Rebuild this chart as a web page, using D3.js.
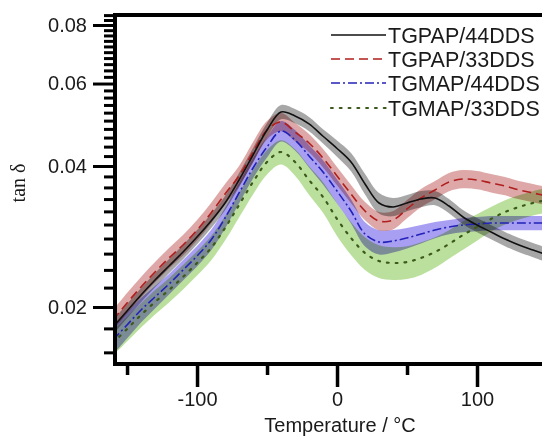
<!DOCTYPE html>
<html>
<head>
<meta charset="utf-8">
<script src="https://cdn.jsdelivr.net/npm/d3@7/dist/d3.min.js"></script>
<style>
  html, body { margin: 0; padding: 0; background: #fff; overflow: hidden; }
  svg { display: block; }
  text { font-family: "Liberation Sans", Arial, sans-serif; }
</style>
</head>
<body>
<svg id="chart" width="542" height="438"></svg>
<script>
// ---------- data ----------
const temps = [-160,-150,-140,-130,-120,-110,-100,-90,-80,-70,-60,-50,-40,-30,-20,-10,0,10,20,30,40,50,60,70,80,90,100,110,120,130,140,150];
const tgpap44 = [0.01813,0.01961,0.02122,0.02284,0.02447,0.02621,0.02821,0.03052,0.03335,0.03734,0.04222,0.04774,0.05216,0.05115,0.04920,0.04630,0.04360,0.04080,0.03661,0.03335,0.03270,0.03335,0.03401,0.03418,0.03286,0.03113,0.02993,0.02892,0.02794,0.02713,0.02647,0.02583];
const tgpap33 = [0.01876,0.02040,0.02207,0.02375,0.02545,0.02713,0.02920,0.03175,0.03486,0.03808,0.04285,0.04774,0.04966,0.04728,0.04479,0.04160,0.03808,0.03486,0.03206,0.03052,0.03067,0.03238,0.03418,0.03555,0.03698,0.03753,0.03734,0.03679,0.03626,0.03555,0.03503,0.03452];
const tgmap44 = [0.01701,0.01831,0.01971,0.02101,0.02239,0.02399,0.02570,0.02780,0.03098,0.03503,0.03961,0.04392,0.04751,0.04545,0.04202,0.03884,0.03537,0.03206,0.02863,0.02753,0.02767,0.02808,0.02863,0.02920,0.02964,0.02993,0.03008,0.03022,0.03022,0.03022,0.03022,0.03022];
const tgmap33 = [0.01676,0.01795,0.01923,0.02050,0.02174,0.02318,0.02483,0.02673,0.02949,0.03302,0.03698,0.04080,0.04285,0.04080,0.03734,0.03435,0.03083,0.02808,0.02608,0.02507,0.02483,0.02495,0.02545,0.02621,0.02726,0.02849,0.02964,0.03083,0.03190,0.03270,0.03335,0.03385];
// relative spread (band half-width) of each series
const tgpap44Spread = [0.035,0.035,0.035,0.035,0.035,0.035,0.035,0.035,0.035,0.035,0.035,0.035,0.035,0.035,0.035,0.035,0.04,0.045,0.05,0.05,0.045,0.04,0.04,0.035,0.035,0.035,0.035,0.035,0.035,0.035,0.035,0.035];
const tgpap33Spread = [0.05,0.05,0.05,0.05,0.05,0.05,0.05,0.05,0.05,0.05,0.05,0.045,0.045,0.045,0.045,0.045,0.045,0.045,0.045,0.045,0.045,0.045,0.045,0.045,0.045,0.045,0.045,0.045,0.045,0.045,0.045,0.045];
const tgmap44Spread = [0.07,0.065,0.06,0.055,0.05,0.05,0.05,0.05,0.05,0.05,0.05,0.05,0.05,0.05,0.055,0.06,0.06,0.06,0.06,0.06,0.055,0.05,0.045,0.04,0.035,0.035,0.035,0.035,0.035,0.035,0.035,0.035];
const tgmap33Spread = [0.06,0.06,0.06,0.06,0.06,0.06,0.06,0.06,0.06,0.06,0.06,0.06,0.06,0.065,0.07,0.075,0.08,0.08,0.08,0.08,0.08,0.08,0.08,0.075,0.07,0.07,0.065,0.06,0.06,0.06,0.06,0.06];
const seriesNames = ["TGPAP/44DDS","TGPAP/33DDS","TGMAP/44DDS","TGMAP/33DDS"];
const yMajorTicks = [0.02,0.04,0.06,0.08];
const yTickLabels = ["0.02","0.04","0.06","0.08"];
const xMajorTicks = [-100,0,100];
const xTickLabels = ["-100","0","100"];
const xMinorTicks = [-150,-50,50,150];

// ---------- layout ----------
const svg = d3.select("#chart");
const L = 115, T = 15, B = 364, R = 561;
const x = d3.scaleLinear().domain([-158.6, 160]).range([L, R]);
const y = d3.scaleLog().domain([0.01511, 0.08404]).range([B, T]);

const styles = [
  {line:"#111111", dash:null, band:"rgb(95,95,95)", bandOp:0.55, w:1.6},
  {line:"#b01e1e", dash:"9,5", band:"rgb(200,110,110)", bandOp:0.6, w:1.6},
  {line:"#2222b8", dash:"9,3,2,3", band:"rgb(110,95,235)", bandOp:0.6, w:1.6},
  {line:"#3d5a1c", dash:"1.8,7", band:"rgb(150,208,105)", bandOp:0.65, w:2.2}
];
const values = [tgpap44, tgpap33, tgmap44, tgmap33];
const spreads = [tgpap44Spread, tgpap33Spread, tgmap44Spread, tgmap33Spread];

svg.append("clipPath").attr("id","plotclip").append("rect")
  .attr("x", L).attr("y", T).attr("width", R - L).attr("height", B - T);
const plot = svg.append("g").attr("clip-path","url(#plotclip)");

const area = d3.area().curve(d3.curveCatmullRom.alpha(0.5))
  .x(d => x(d.t)).y0(d => y(d.v * (1 - d.s))).y1(d => y(d.v * (1 + d.s)));
const line = d3.line().curve(d3.curveCatmullRom.alpha(0.5))
  .x(d => x(d.t)).y(d => y(d.v));

const data = values.map((vals, i) => temps.map((t, j) => ({t, v: vals[j], s: spreads[i][j]})));

// bands (draw order: green, blue, red, black)
[3,2,1,0].forEach(i => {
  plot.append("path").datum(data[i]).attr("d", area)
    .attr("fill", styles[i].band).attr("fill-opacity", styles[i].bandOp)
    .style("mix-blend-mode","multiply");
});
[3,2,1,0].forEach(i => {
  plot.append("path").datum(data[i]).attr("d", line)
    .attr("fill","none").attr("stroke", styles[i].line)
    .attr("stroke-width", styles[i].w)
    .attr("stroke-dasharray", styles[i].dash)
    .attr("stroke-linecap", i === 3 ? "round" : "butt");
});

// ---------- axes ----------
const axisW = 3;
// frame
svg.append("line").attr("x1", L).attr("x2", L).attr("y1", T - 1.5).attr("y2", B + 1.5)
  .attr("stroke","#000").attr("stroke-width", axisW + 1);
svg.append("line").attr("x1", L - 2).attr("x2", 560).attr("y1", T).attr("y2", T)
  .attr("stroke","#000").attr("stroke-width", axisW + 1);
svg.append("line").attr("x1", L - 2).attr("x2", 560).attr("y1", B).attr("y2", B)
  .attr("stroke","#000").attr("stroke-width", axisW + 1);

// y axis ticks
const yMinor = d3.range(0.016, 0.0845, 0.002).filter(v => !yMajorTicks.some(m => Math.abs(m - v) < 1e-6));
const yAxisMinor = d3.axisLeft(y).tickValues(yMinor).tickSize(11).tickFormat("");
const yAxisMajor = d3.axisLeft(y).tickValues(yMajorTicks).tickSize(22)
  .tickFormat((d, i) => yTickLabels[i]).tickPadding(6);
const gyMinor = svg.append("g").attr("transform", `translate(${L},0)`).call(yAxisMinor);
const gyMajor = svg.append("g").attr("transform", `translate(${L},0)`).call(yAxisMajor);
[gyMinor, gyMajor].forEach(g => {
  g.select(".domain").remove();
  g.selectAll("line").attr("stroke","#000").attr("stroke-width", axisW);
});
gyMajor.selectAll("text").attr("font-size", 20).attr("fill","#1a1a1a")
  .style("font-family","'Liberation Sans', Arial, sans-serif");

// x axis ticks
const xAxisMinor = d3.axisBottom(x).tickValues(xMinorTicks).tickSize(11).tickFormat("");
const xAxisMajor = d3.axisBottom(x).tickValues(xMajorTicks).tickSize(23)
  .tickFormat((d, i) => xTickLabels[i]).tickPadding(5);
const gxMinor = svg.append("g").attr("transform", `translate(0,${B})`).call(xAxisMinor);
const gxMajor = svg.append("g").attr("transform", `translate(0,${B})`).call(xAxisMajor);
[gxMinor, gxMajor].forEach(g => {
  g.select(".domain").remove();
  g.selectAll("line").attr("stroke","#000").attr("stroke-width", axisW + 0.5);
});
gxMajor.selectAll("text").attr("font-size", 20).attr("fill","#1a1a1a")
  .style("font-family","'Liberation Sans', Arial, sans-serif");

// axis titles
svg.append("text").attr("x", 340).attr("y", 432).attr("text-anchor","middle")
  .attr("font-size", 20).attr("fill","#1a1a1a").text("Temperature / \u00B0C");
svg.append("text").attr("transform","translate(25,183) rotate(-90)")
  .attr("text-anchor","middle").attr("font-size", 20)
  .style("font-family","'Liberation Serif', 'Times New Roman', serif")
  .attr("fill","#1a1a1a").text("tan \u03B4");

// ---------- legend ----------
const legY = [35, 59, 83, 108];
const leg = svg.append("g");
seriesNames.forEach((name, i) => {
  leg.append("line").attr("x1", 331).attr("x2", 386).attr("y1", legY[i]).attr("y2", legY[i])
    .attr("stroke", styles[i].line).attr("stroke-width", i === 3 ? 2.2 : 1.6)
    .attr("stroke-dasharray", styles[i].dash)
    .attr("stroke-linecap", i === 3 ? "round" : "butt");
  leg.append("text").attr("x", 388).attr("y", legY[i]).attr("dy", "0.36em")
    .attr("font-size", 21.5).attr("fill","#1a1a1a").text(name);
});
</script>
</body>
</html>
